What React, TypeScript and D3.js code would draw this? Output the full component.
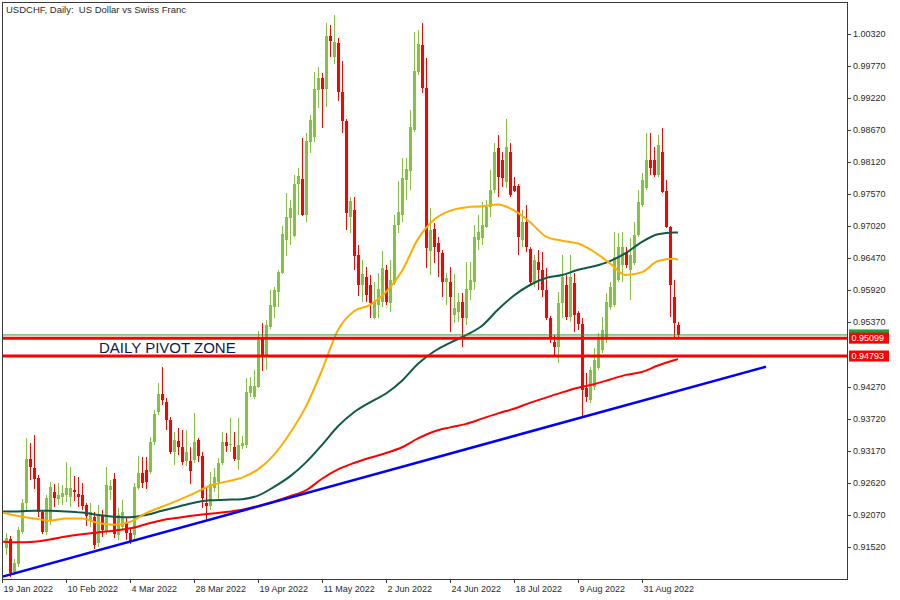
import React from 'react';
import * as d3 from 'd3';

const W = 900;
const H = 600;

const TITLE = 'USDCHF, Daily:  US Dollar vs Swiss Franc';
const ZONE_TEXT = 'DAILY PIVOT ZONE';

const DATE_LABELS = ['19 Jan 2022', '10 Feb 2022', '4 Mar 2022', '28 Mar 2022', '19 Apr 2022', '11 May 2022', '2 Jun 2022', '24 Jun 2022', '18 Jul 2022', '9 Aug 2022', '31 Aug 2022'];
const DATE_TICK_BARS = [-1, 15, 31, 47, 63, 79, 95, 111, 127, 143, 159];
const PRICE_TICKS = [1.0032, 0.9977, 0.9922, 0.9867, 0.9812, 0.9757, 0.9702, 0.9647, 0.9592, 0.9537, 0.9427, 0.9372, 0.9317, 0.9262, 0.9207, 0.9152];

const OPEN = [0.9150,0.9166,0.9109,0.9123,0.9178,0.9228,0.9303,0.9288,0.9270,0.9212,
0.9178,0.9198,0.9246,0.9234,0.9238,0.9241,0.9238,0.9250,0.9243,0.9241,
0.9224,0.9198,0.9204,0.9159,0.9207,0.9178,0.9250,0.9269,0.9173,0.9186,
0.9195,0.9176,0.9173,0.9253,0.9279,0.9284,0.9281,0.9332,0.9383,0.9414,
0.9401,0.9370,0.9315,0.9334,0.9323,0.9300,0.9300,0.9301,0.9335,0.9308,
0.9228,0.9222,0.9253,0.9264,0.9296,0.9332,0.9327,0.9323,0.9301,0.9325,
0.9327,0.9416,0.9409,0.9426,0.9512,0.9481,0.9529,0.9563,0.9589,0.9622,
0.9678,0.9716,0.9685,0.9774,0.9783,0.9721,0.9846,0.9855,0.9935,0.9956,
0.9937,1.0028,0.9992,1.0016,0.9932,0.9882,0.9718,0.9730,0.9653,0.9601,
0.9615,0.9601,0.9545,0.9567,0.9572,0.9627,0.9570,0.9605,0.9704,0.9721,
0.9781,0.9796,0.9867,0.9966,1.0012,0.9939,0.9659,0.9697,0.9673,0.9656,
0.9606,0.9606,0.9550,0.9555,0.9572,0.9545,0.9593,0.9606,0.9678,0.9682,
0.9701,0.9735,0.9764,0.9836,0.9815,0.9778,0.9829,0.9771,0.9771,0.9678,
0.9709,0.9663,0.9606,0.9641,0.9627,0.9593,0.9545,0.9503,0.9495,0.9570,
0.9601,0.9546,0.9605,0.9553,0.9534,0.9425,0.9404,0.9426,0.9459,0.9490,
0.9507,0.9563,0.9567,0.9610,0.9635,0.9658,0.9627,0.9639,0.9687,0.9738,
0.9767,0.9815,0.9815,0.9790,0.9829,0.9762,0.9701,0.9580,0.9533];

const HIGH = [0.9176,0.9171,0.9132,0.9186,0.9234,0.9339,0.9330,0.9344,0.9275,0.9215,
0.9241,0.9264,0.9260,0.9262,0.9258,0.9298,0.9289,0.9274,0.9272,0.9262,
0.9228,0.9228,0.9212,0.9224,0.9215,0.9289,0.9267,0.9279,0.9219,0.9233,
0.9202,0.9185,0.9262,0.9308,0.9306,0.9306,0.9341,0.9387,0.9433,0.9461,
0.9407,0.9375,0.9349,0.9356,0.9353,0.9353,0.9323,0.9382,0.9339,0.9315,
0.9255,0.9281,0.9288,0.9305,0.9349,0.9348,0.9373,0.9349,0.9373,0.9342,
0.9442,0.9443,0.9455,0.9522,0.9536,0.9541,0.9593,0.9598,0.9627,0.9702,
0.9759,0.9747,0.9790,0.9802,0.9853,0.9862,0.9892,0.9966,0.9975,0.9964,
1.0050,1.0047,1.0064,1.0024,0.9985,0.9886,0.9752,0.9752,0.9670,0.9644,
0.9632,0.9618,0.9606,0.9622,0.9659,0.9635,0.9644,0.9721,0.9779,0.9819,
0.9819,0.9901,1.0035,1.0038,1.0050,0.9990,0.9733,0.9707,0.9683,0.9661,
0.9622,0.9632,0.9620,0.9587,0.9587,0.9641,0.9641,0.9704,0.9721,0.9743,
0.9747,0.9798,0.9845,0.9858,0.9829,0.9886,0.9845,0.9786,0.9774,0.9730,
0.9738,0.9666,0.9653,0.9661,0.9658,0.9630,0.9548,0.9515,0.9589,0.9653,
0.9618,0.9653,0.9622,0.9557,0.9545,0.9450,0.9461,0.9493,0.9519,0.9546,
0.9587,0.9606,0.9692,0.9690,0.9692,0.9666,0.9682,0.9709,0.9764,0.9793,
0.9862,0.9862,0.9838,0.9858,0.9870,0.9781,0.9702,0.9610,0.9538];

const LOW = [0.9138,0.9101,0.9104,0.9118,0.9174,0.9216,0.9267,0.9252,0.9204,0.9174,
0.9173,0.9190,0.9221,0.9224,0.9224,0.9229,0.9221,0.9231,0.9221,0.9215,
0.9188,0.9186,0.9149,0.9152,0.9169,0.9173,0.9233,0.9168,0.9164,0.9181,
0.9164,0.9157,0.9164,0.9250,0.9253,0.9252,0.9277,0.9327,0.9378,0.9395,
0.9353,0.9311,0.9293,0.9310,0.9293,0.9291,0.9260,0.9296,0.9298,0.9219,
0.9198,0.9215,0.9246,0.9233,0.9293,0.9315,0.9315,0.9300,0.9284,0.9320,
0.9322,0.9409,0.9406,0.9425,0.9454,0.9455,0.9526,0.9545,0.9563,0.9620,
0.9651,0.9670,0.9683,0.9721,0.9719,0.9709,0.9827,0.9846,0.9904,0.9870,
0.9906,0.9992,0.9980,0.9916,0.9862,0.9695,0.9690,0.9627,0.9582,0.9572,
0.9572,0.9545,0.9543,0.9545,0.9563,0.9567,0.9555,0.9601,0.9690,0.9709,
0.9747,0.9764,0.9863,0.9961,0.9930,0.9630,0.9618,0.9639,0.9615,0.9580,
0.9567,0.9521,0.9536,0.9538,0.9495,0.9533,0.9575,0.9593,0.9661,0.9670,
0.9699,0.9718,0.9759,0.9752,0.9769,0.9767,0.9752,0.9761,0.9653,0.9666,
0.9658,0.9601,0.9598,0.9593,0.9580,0.9541,0.9502,0.9481,0.9467,0.9545,
0.9541,0.9538,0.9521,0.9524,0.9373,0.9401,0.9399,0.9421,0.9455,0.9485,
0.9502,0.9558,0.9563,0.9606,0.9606,0.9630,0.9575,0.9635,0.9683,0.9735,
0.9764,0.9790,0.9786,0.9786,0.9759,0.9699,0.9546,0.9512,0.9510];

const CLOSE = [0.9168,0.9108,0.9125,0.9181,0.9228,0.9303,0.9289,0.9269,0.9212,0.9178,
0.9236,0.9255,0.9236,0.9241,0.9245,0.9253,0.9253,0.9246,0.9238,0.9222,
0.9205,0.9212,0.9156,0.9207,0.9181,0.9258,0.9257,0.9174,0.9207,0.9212,
0.9176,0.9161,0.9255,0.9279,0.9262,0.9264,0.9332,0.9380,0.9414,0.9404,
0.9370,0.9315,0.9335,0.9323,0.9298,0.9315,0.9282,0.9332,0.9308,0.9236,
0.9222,0.9260,0.9272,0.9296,0.9332,0.9325,0.9329,0.9303,0.9327,0.9330,
0.9418,0.9428,0.9428,0.9507,0.9481,0.9533,0.9567,0.9593,0.9623,0.9688,
0.9718,0.9733,0.9774,0.9788,0.9721,0.9848,0.9884,0.9937,0.9956,0.9937,
1.0028,1.0019,1.0018,0.9932,0.9882,0.9725,0.9745,0.9651,0.9601,0.9620,
0.9584,0.9570,0.9572,0.9594,0.9630,0.9572,0.9610,0.9704,0.9726,0.9785,
0.9800,0.9872,0.9968,1.0014,0.9939,0.9665,0.9695,0.9666,0.9658,0.9606,
0.9613,0.9580,0.9562,0.9572,0.9545,0.9594,0.9610,0.9683,0.9692,0.9704,
0.9735,0.9764,0.9829,0.9786,0.9785,0.9838,0.9755,0.9762,0.9683,0.9709,
0.9666,0.9606,0.9644,0.9627,0.9593,0.9545,0.9510,0.9495,0.9570,0.9615,
0.9546,0.9615,0.9550,0.9534,0.9421,0.9409,0.9455,0.9473,0.9510,0.9524,
0.9572,0.9598,0.9649,0.9666,0.9666,0.9635,0.9653,0.9687,0.9743,0.9781,
0.9815,0.9802,0.9790,0.9841,0.9761,0.9701,0.9601,0.9536,0.9515];

const MA_BARS = [-1,3,7,11,15,19,23,27,31,35,39,43,47,51,55,59,63,67,71,75,79,83,87,91,95,99,103,107,111,115,119,123,127,131,135,139,143,147,151,155,159,163,167,168];
const MA_ORANGE = [0.9211,0.9205,0.9201,0.9197,0.9201,0.9201,0.9193,0.9190,0.9195,0.9210,0.9221,0.9232,0.9244,0.9257,0.9264,0.9271,0.9285,0.9310,0.9347,0.9393,0.9455,0.9524,0.9556,0.9567,0.9589,0.9625,0.9680,0.9713,0.9728,0.9734,0.9736,0.9739,0.9729,0.9709,0.9684,0.9677,0.9672,0.9658,0.9638,0.9618,0.9623,0.9642,0.9646,0.9644];
const MA_DKGREEN = [0.9213,0.9213,0.9214,0.9214,0.9213,0.9211,0.9207,0.9204,0.9203,0.9207,0.9214,0.9221,0.9228,0.9232,0.9233,0.9234,0.9240,0.9255,0.9273,0.9297,0.9327,0.9359,0.9383,0.9400,0.9415,0.9437,0.9466,0.9487,0.9502,0.9515,0.9531,0.9559,0.9583,0.9601,0.9613,0.9618,0.9627,0.9633,0.9642,0.9656,0.9675,0.9688,0.9691,0.9691];
const MA_RED = [0.9161,0.9160,0.9161,0.9165,0.9170,0.9174,0.9177,0.9180,0.9184,0.9191,0.9198,0.9202,0.9206,0.9209,0.9212,0.9216,0.9222,0.9230,0.9239,0.9249,0.9269,0.9285,0.9296,0.9305,0.9313,0.9323,0.9338,0.9350,0.9357,0.9363,0.9372,0.9381,0.9389,0.9399,0.9408,0.9417,0.9425,0.9431,0.9439,0.9447,0.9452,0.9463,0.9472,0.9474];

const TREND_BARS = [-1, 190];
const TREND_PRICES = [0.9101, 0.9461];

const ZONE_LEVELS = [0.95099, 0.94793];
const LAST_PRICE = 0.95154;

const UP = '#83c341';
const DOWN = '#ff0000';
const AXIS = '#3a3a3a';
const FONT = "'Liberation Sans', Arial, sans-serif";

export default function App() {
  const left = 2, top = 2, right = 847, bottom = 579;
  const x = d3.scaleLinear().domain([0, 168]).range([6, 678]);
  const y = d3.scaleLinear().domain([0.9152, 1.0032]).range([547, 33.5]);
  const fmt = d3.format('.5f');

  const maLine = (vals: number[]) =>
    d3.line<number>().x((_, i) => x(MA_BARS[i])).y((v) => y(v)).curve(d3.curveMonotoneX)(vals) || '';

  const trend = d3.line<number>().x((_, i) => x(TREND_BARS[i])).y((v) => y(v))(TREND_PRICES) || '';

  return (
    <svg width={W} height={H} style={{ position: 'absolute', left: 0, top: 0, background: '#fff' }} fontFamily={FONT}>
      <rect x={0} y={0} width={W} height={H} fill="#fff" />
      <defs>
        <clipPath id="plot">
          <rect x={left + 1} y={top + 1} width={right - left - 1} height={bottom - top - 1} />
        </clipPath>
      </defs>
      <g clipPath="url(#plot)">
        {OPEN.map((o, i) => {
          const c = CLOSE[i];
          const cx = x(i);
          const yt = y(Math.max(o, c));
          const yb = y(Math.min(o, c));
          const col = c >= o ? UP : DOWN;
          return (
            <g key={i} shapeRendering="crispEdges">
              <rect x={cx} y={y(HIGH[i])} width={1} height={Math.max(1, y(LOW[i]) - y(HIGH[i]))} fill={col} />
              <rect x={cx - 1} y={yt} width={3} height={Math.max(1, yb - yt)} fill={col} />
            </g>
          );
        })}
        <path d={maLine(MA_RED)} fill="none" stroke="#ff0000" strokeWidth={2} />
        <path d={maLine(MA_DKGREEN)} fill="none" stroke="#0e5a49" strokeWidth={2} />
        <path d={maLine(MA_ORANGE)} fill="none" stroke="#ffad00" strokeWidth={2} />
        <path d={trend} fill="none" stroke="#0000ff" strokeWidth={2.5} />
        <line x1={left} x2={right} y1={y(LAST_PRICE)} y2={y(LAST_PRICE)} stroke="#1f9e3a" strokeWidth={1} />
        {ZONE_LEVELS.map((v) => (
          <line key={v} x1={left} x2={right} y1={y(v)} y2={y(v)} stroke="#ff0000" strokeWidth={3} />
        ))}
        <text x={99} y={352.7} fontSize={15} fill="#0c1b4d">{ZONE_TEXT}</text>
      </g>

      <rect x={left + 0.5} y={top + 0.5} width={right - left} height={bottom - top} fill="none" stroke={AXIS} strokeWidth={1} shapeRendering="crispEdges" />

      <text x={6} y={13} fontSize={9.5} fill="#2b2b2b" style={{ whiteSpace: 'pre' }}>{TITLE}</text>

      {PRICE_TICKS.map((v) => (
        <g key={v}>
          <line x1={right} x2={right + 4} y1={Math.round(y(v)) + 0.5} y2={Math.round(y(v)) + 0.5} stroke={AXIS} shapeRendering="crispEdges" />
          <text x={853} y={y(v)} dy="0.35em" fontSize={9} fill="#2b2b2b">{fmt(v)}</text>
        </g>
      ))}

      {DATE_TICK_BARS.map((b, i) => (
        <g key={b}>
          <line x1={x(b) + 0.5} x2={x(b) + 0.5} y1={bottom} y2={bottom + 4} stroke={AXIS} shapeRendering="crispEdges" />
          <text x={x(b) + 1.5} y={592} fontSize={9} fill="#2b2b2b">{DATE_LABELS[i]}</text>
        </g>
      ))}

      {/* current price marker (its text is covered in the reference) */}
      <rect x={849} y={y(LAST_PRICE) - 5.5} width={40} height={11} fill="#1f9e3a" />
      {ZONE_LEVELS.map((v) => (
        <g key={'l' + v}>
          <rect x={849} y={y(v) - 5.5} width={40} height={11} fill="#ff0000" />
          <text x={851.5} y={y(v)} dy="0.35em" fontSize={9} fill="#fff">{fmt(v)}</text>
        </g>
      ))}
    </svg>
  );
}
